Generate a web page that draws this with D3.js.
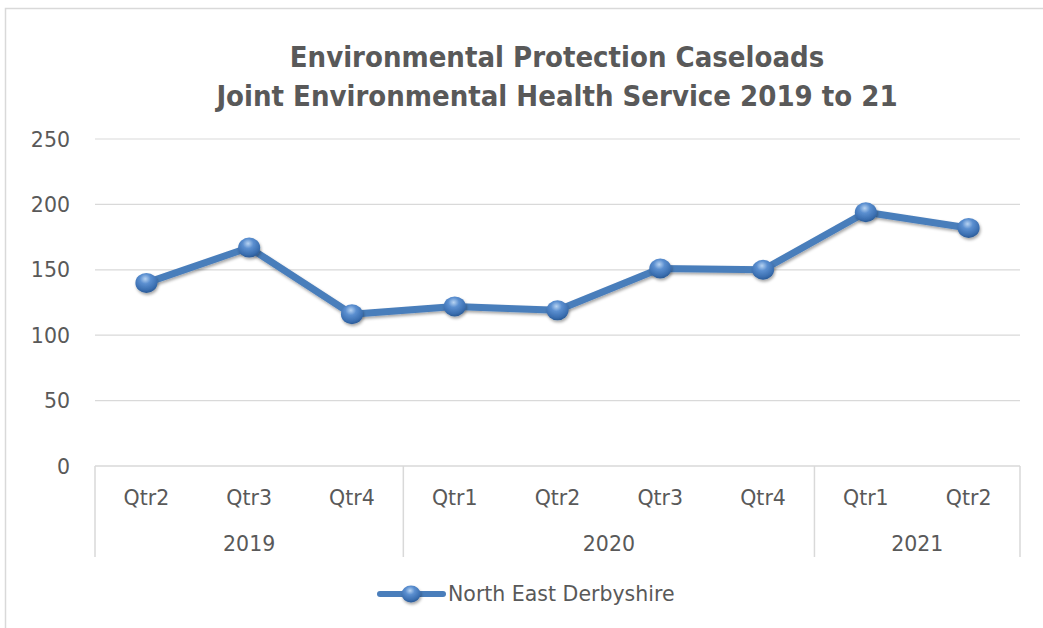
<!DOCTYPE html>
<html><head><meta charset="utf-8">
<script src="https://cdn.jsdelivr.net/npm/d3@7"></script>
<style>body{margin:0;background:#fff}svg{display:block}</style>
</head><body>
<svg id="c" width="1043" height="628"></svg>
<script>
const titleLines = ["Environmental Protection Caseloads", "Joint Environmental Health Service 2019 to 21"];
const quarters = ["Qtr2","Qtr3","Qtr4","Qtr1","Qtr2","Qtr3","Qtr4","Qtr1","Qtr2"];
const years = ["2019","2019","2019","2020","2020","2020","2020","2021","2021"];
const values = [140, 167, 116, 122, 119, 151, 150, 194, 182];
const yTicks = [0, 50, 100, 150, 200, 250];
const seriesName = "North East Derbyshire";

const svg = d3.select("#c");
const font = "'DejaVu Sans', sans-serif";
const fs = 20.5;
const gray = "#595959";
const lineColor = "#4a7ebb";

// outer chart border
svg.append("rect").attr("x",5.5).attr("y",8.5).attr("width",1050).attr("height",640)
  .attr("fill","#fff").attr("stroke","#d9d9d9").attr("stroke-width",1.5);

const m = {left:95, right:1020, top:139, bottom:466};
const x = d3.scaleBand().domain(d3.range(values.length)).range([m.left, m.right]);
const y = d3.scaleLinear().domain([0,250]).range([m.bottom, m.top]);

// defs
const defs = svg.append("defs");
const rg = defs.append("radialGradient").attr("id","ball").attr("cx","45%").attr("cy","30%").attr("r","70%");
rg.append("stop").attr("offset","0%").attr("stop-color","#b7d3f2");
rg.append("stop").attr("offset","35%").attr("stop-color","#5b8fd0");
rg.append("stop").attr("offset","80%").attr("stop-color","#3a6eb0");
rg.append("stop").attr("offset","100%").attr("stop-color","#2a5a95");
const f = defs.append("filter").attr("id","sh").attr("x","-50%").attr("y","-50%").attr("width","200%").attr("height","200%");
f.append("feDropShadow").attr("dx",1).attr("dy",2).attr("stdDeviation",1.5).attr("flood-color","#000").attr("flood-opacity",0.35);

// title
svg.append("g").selectAll("text").data(titleLines).join("text")
  .attr("x", 557).attr("y",(d,i)=>67+i*39)
  .attr("text-anchor","middle").attr("fill",gray)
  .attr("font-family","'DejaVu Sans Condensed', sans-serif").attr("font-weight","bold").attr("font-size",29)
  .text(d=>d);

// gridlines
svg.append("g").selectAll("line").data(yTicks.filter(d=>d>0)).join("line")
  .attr("x1",m.left).attr("x2",m.right).attr("y1",d=>y(d)).attr("y2",d=>y(d))
  .attr("stroke","#d9d9d9").attr("stroke-width",1.2);

// y labels
const yAxis = svg.append("g").attr("transform",`translate(${m.left-25},0)`)
  .call(d3.axisLeft(y).tickValues(yTicks).tickSize(0).tickPadding(0));
yAxis.select(".domain").remove();
yAxis.selectAll("text").attr("fill",gray).attr("font-family",font).attr("font-size",fs).attr("dy","0.35em");

// x axis (multi-level)
const xg = svg.append("g");
xg.append("line").attr("x1",m.left).attr("x2",m.right).attr("y1",m.bottom).attr("y2",m.bottom)
  .attr("stroke","#d9d9d9").attr("stroke-width",1.5);
const groups = [];
years.forEach((yr,i)=>{ if(!groups.length || groups[groups.length-1].yr!==yr) groups.push({yr, s:i, e:i}); else groups[groups.length-1].e=i; });
const bounds = [m.left, ...groups.map(g=>x(g.e)+x.bandwidth())];
xg.selectAll("line.sep").data(bounds).join("line").attr("class","sep")
  .attr("x1",d=>d).attr("x2",d=>d).attr("y1",m.bottom).attr("y2",557)
  .attr("stroke","#d9d9d9").attr("stroke-width",1.5);
xg.selectAll("text.q").data(quarters).join("text").attr("class","q")
  .attr("x",(d,i)=>x(i)+x.bandwidth()/2).attr("y",505)
  .attr("text-anchor","middle").attr("fill",gray).attr("font-family",font).attr("font-size",fs).text(d=>d);
xg.selectAll("text.yr").data(groups).join("text").attr("class","yr")
  .attr("x",g=>(x(g.s)+x(g.e)+x.bandwidth())/2).attr("y",551)
  .attr("text-anchor","middle").attr("fill",gray).attr("font-family",font).attr("font-size",fs).text(g=>g.yr);

// line
const line = d3.line().x((d,i)=>x(i)+x.bandwidth()/2).y(d=>y(d));
svg.append("path").datum(values).attr("d",line).attr("fill","none")
  .attr("stroke",lineColor).attr("stroke-width",7).attr("stroke-linejoin","round").attr("filter","url(#sh)");
svg.append("g").selectAll("ellipse").data(values).join("ellipse")
  .attr("cx",(d,i)=>x(i)+x.bandwidth()/2).attr("cy",d=>y(d)).attr("rx",11).attr("ry",10)
  .attr("fill","url(#ball)").attr("filter","url(#sh)");

// legend
const lg = svg.append("g");
lg.append("line").attr("x1",380).attr("x2",443).attr("y1",594).attr("y2",594)
  .attr("stroke",lineColor).attr("stroke-width",6).attr("stroke-linecap","round");
lg.append("ellipse").attr("cx",411).attr("cy",594).attr("rx",9.5).attr("ry",8.5).attr("fill","url(#ball)").attr("filter","url(#sh)");
lg.append("text").attr("x",448).attr("y",601).attr("fill",gray).attr("font-family",font).attr("font-size",fs).text(seriesName);
</script>
</body></html>
